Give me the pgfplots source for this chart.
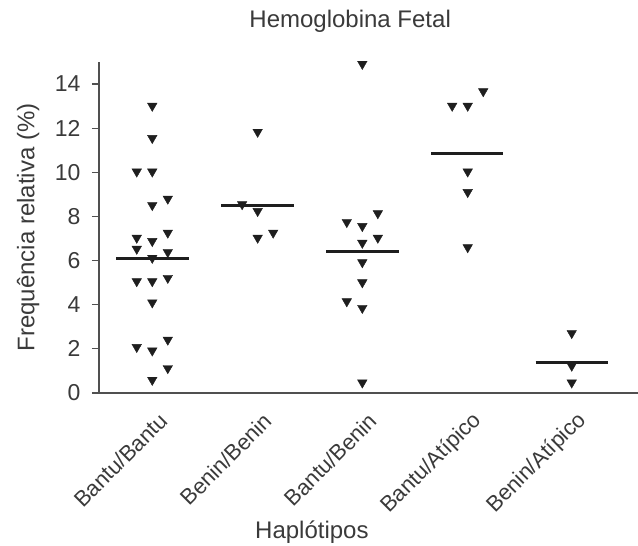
\documentclass[border=0pt]{standalone}
\usepackage{pgfplots}
\pgfplotsset{compat=1.18}
\usepackage{fontspec}
\setmainfont{Liberation Sans}
\definecolor{txt}{HTML}{3A3A3A}
\definecolor{axc}{HTML}{505050}
\definecolor{mk}{HTML}{1E1E1E}
\begin{document}
\begin{tikzpicture}
\path[use as bounding box] (-99bp,-153bp) rectangle (539bp,331bp+62bp);
\begin{axis}[
  scale only axis,
  width=539bp, height=331bp,
  xmin=-0.508, xmax=4.632,
  ymin=0, ymax=15,
  axis x line*=bottom, axis y line*=left,
  axis line style={draw=axc, line width=1.5bp},
  xtick={0,1,2,3,4},
  xticklabels={Bantu/Bantu,Benin/Benin,Bantu/Benin,Bantu/Atípico,Benin/Atípico},
  ytick={0,2,4,6,8,10,12,14},
  tick align=outside,
  major tick length=7bp,
  xtick style={draw=none},
  ytick style={draw=axc, line width=1.2bp},
  /pgf/number format/assume math mode=true,
  yticklabel style={font=\fontsize{23bp}{25bp}\selectfont, text=txt, xshift=-8bp},
  xticklabel style={font=\fontsize{22bp}{24bp}\selectfont, text=txt, rotate=45, anchor=east, xshift=-1bp, yshift=-20bp},
  title={Hemoglobina Fetal},
  title style={at={(rel axis cs:0.466,1)}, anchor=base, yshift=29bp, font=\fontsize{24bp}{28bp}\selectfont, text=txt},
  xlabel={Haplótipos},
  xlabel style={at={(rel axis cs:0.395,0)}, anchor=base, yshift=-145bp, font=\fontsize{24bp}{28bp}\selectfont, text=txt},
  ylabel={Frequência relativa (\%)},
  ylabel style={at={(axis description cs:-0.1317,0.5)}, anchor=center, font=\fontsize{24bp}{28bp}\selectfont, text=txt},
  clip=false,
]
% scatter points
\addplot[only marks, mark=triangle*, mark size=5.5bp, mark options={rotate=180, fill=mk, draw=mk}] coordinates {
  (0,13.01) (0,11.55) (-0.148,10.03) (0,10.03) (0,8.51) (0.148,8.80)
  (-0.148,7.03) (0,6.88) (0.148,7.26) (-0.148,6.53) (0,6.12) (0.148,6.38)
  (-0.148,5.06) (0,5.06) (0.148,5.21) (0,4.10) (-0.148,2.08) (0,1.92)
  (0.148,2.41) (0.148,1.12) (0,0.59)
};
\addplot[only marks, mark=triangle*, mark size=5.5bp, mark options={rotate=180, fill=mk, draw=mk}] coordinates {
  (1.005,11.83) (0.857,8.55) (1.005,8.24) (1.005,7.03) (1.153,7.26)
};
\addplot[only marks, mark=triangle*, mark size=5.5bp, mark options={rotate=180, fill=mk, draw=mk}] coordinates {
  (2.003,14.91) (1.855,7.74) (2.003,7.56) (2.151,8.14) (2.003,6.80) (2.151,7.03)
  (2.003,5.92) (2.003,5.01) (1.855,4.15) (2.003,3.85) (2.003,0.47)
};
\addplot[only marks, mark=triangle*, mark size=5.5bp, mark options={rotate=180, fill=mk, draw=mk}] coordinates {
  (2.86,13.01) (3.008,13.01) (3.156,13.67) (3.008,10.03) (3.008,9.10) (3.008,6.60)
};
\addplot[only marks, mark=triangle*, mark size=5.5bp, mark options={rotate=180, fill=mk, draw=mk}] coordinates {
  (4.0,2.71) (4.0,1.23) (4.0,0.47)
};
% medians
\addplot[mk, line width=3bp] coordinates {(-0.345,6.09) (0.35,6.09)};
\addplot[mk, line width=3bp] coordinates {(0.66,8.51) (1.35,8.51)};
\addplot[mk, line width=3bp] coordinates {(1.66,6.42) (2.35,6.42)};
\addplot[mk, line width=3bp] coordinates {(2.66,10.85) (3.345,10.85)};
\addplot[mk, line width=3bp] coordinates {(3.655,1.40) (4.345,1.40)};
\end{axis}
\end{tikzpicture}
\end{document}
